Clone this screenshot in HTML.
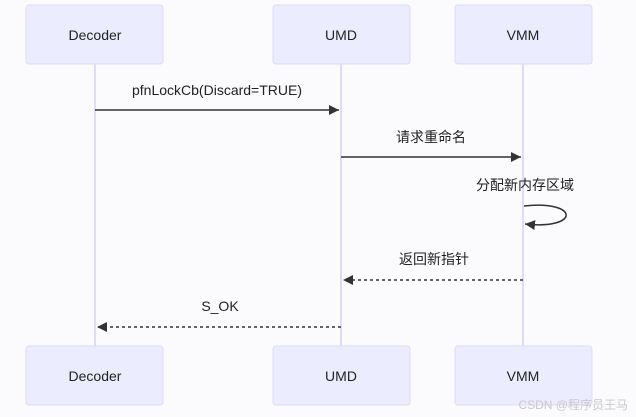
<!DOCTYPE html>
<html><head><meta charset="utf-8"><style>
html,body{margin:0;padding:0;background:#fbfbfd;}
svg{display:block;font-family:"Liberation Sans","Noto Sans CJK SC",sans-serif;}
</style></head><body>
<svg width="636" height="417" viewBox="0 0 636 417" xmlns="http://www.w3.org/2000/svg">
<defs>
<marker id="a" markerWidth="12" markerHeight="12" refX="10" refY="5" orient="auto" markerUnits="userSpaceOnUse"><path d="M0,0 L10,5 L0,10 z" fill="#333"/></marker>
</defs>
<rect width="636" height="417" fill="#fbfbfd"/>
<g stroke="#e0d9f7" stroke-width="2">
<line x1="95" y1="64" x2="95" y2="346"/>
<line x1="341" y1="64" x2="341" y2="346"/>
<line x1="523" y1="64" x2="523" y2="346"/>
</g>
<g fill="#ececff" stroke="#e0d9f7" stroke-width="1">
<rect x="26" y="5" width="137" height="59" rx="3"/>
<rect x="273" y="5" width="137" height="59" rx="3"/>
<rect x="455" y="5" width="137" height="59" rx="3"/>
<rect x="26" y="346" width="137" height="59" rx="3"/>
<rect x="273" y="346" width="137" height="59" rx="3"/>
<rect x="455" y="346" width="137" height="59" rx="3"/>
</g>
<g font-size="14" fill="#222" text-anchor="middle" dominant-baseline="central">
<text x="95" y="35">Decoder</text><text x="341" y="35">UMD</text><text x="523" y="35">VMM</text>
<text x="95" y="376">Decoder</text><text x="341" y="376">UMD</text><text x="523" y="376">VMM</text>
<text x="217" y="90">pfnLockCb(Discard=TRUE)</text>
<text x="431" y="137">请求重命名</text>
<text x="525" y="185">分配新内存区域</text>
<text x="434" y="259">返回新指针</text>
<text x="220" y="306">S_OK</text>
</g>
<g stroke="#333" stroke-width="1.5" fill="none">
<line x1="95" y1="110" x2="339" y2="110" marker-end="url(#a)"/>
<line x1="341" y1="157" x2="521" y2="157" marker-end="url(#a)"/>
<path d="M524,206 C580,200 580,230 525,224" marker-end="url(#a)"/>
<line x1="523" y1="280" x2="343" y2="280" stroke-dasharray="3,3" marker-end="url(#a)"/>
<line x1="341" y1="327" x2="97" y2="327" stroke-dasharray="3,3" marker-end="url(#a)"/>
</g>
<text x="628" y="409" font-size="12" fill="#c8c8cc" text-anchor="end">CSDN @程序员王马</text>
</svg>
</body></html>
